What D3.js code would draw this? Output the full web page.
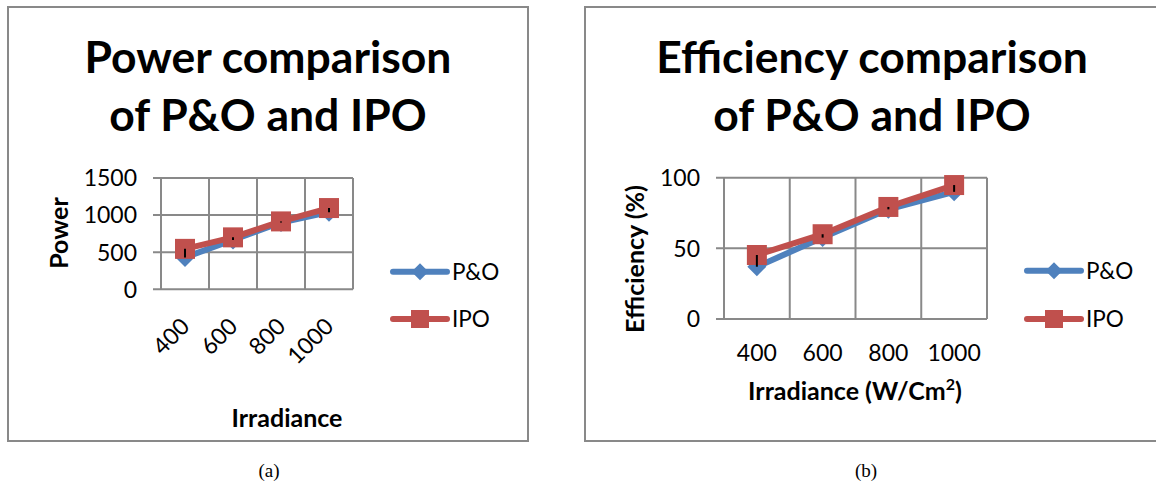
<!DOCTYPE html>
<html>
<head>
<meta charset="utf-8">
<script src="https://cdn.jsdelivr.net/npm/d3@7"></script>
<style>
  html, body { margin: 0; padding: 0; background: #fff; }
  svg { display: block; }
  text { font-family: Lato, "Open Sans", sans-serif; fill: #000; }
</style>
</head>
<body>
<svg id="chart" width="1156" height="488"></svg>
<script>
// Irradiance levels shared by both panels
const irradiance = ["400", "600", "800", "1000"];

// Panel (a): output power
const powerPO  = [430, 665, 900, 1040];
const powerIPO = [545, 700, 915, 1095];
const powerTicks = [0, 500, 1000, 1500];

// Panel (b): efficiency in percent
const effPO  = [37, 57.6, 77.6, 90];
const effIPO = [45.3, 60, 79.3, 94.8];
const effTicks = [0, 50, 100];

const seriesNames = ["P&O", "IPO"];
const seriesColors = ["#4f81bd", "#c0504d"];
const gridColor = "#898989";

const svg = d3.select("#chart");

// Diamond path centred on the origin
function diamond(r) {
  return `M0,${-r}L${r},0L0,${r}L${-r},0Z`;
}

function titleSize() {
  // size the title so that the first line spans its designed width
  const t = svg.append("text").attr("font-weight", 700).attr("font-size", 40).text("Power comparison");
  const w = t.node().getComputedTextLength();
  t.remove();
  return 40 * 367 / w;
}
const tSize = titleSize();

function panel(cfg) {
  const g = svg.append("g");

  // outer frame
  g.append("rect")
    .attr("x", cfg.frame[0]).attr("y", cfg.frame[1])
    .attr("width", cfg.frame[2]).attr("height", cfg.frame[3])
    .attr("fill", "#fff").attr("stroke", gridColor).attr("stroke-width", 2);

  // title, two lines
  cfg.title.forEach((line, i) => {
    g.append("text")
      .attr("x", cfg.titleX).attr("y", 73 + i * 58)
      .attr("text-anchor", "middle")
      .attr("font-weight", 700).attr("font-size", tSize)
      .text(line);
  });

  const x = d3.scaleBand().domain(irradiance).range(cfg.xRange);
  const y = d3.scaleLinear().domain(cfg.yDomain).range(cfg.yRange);
  const [x0, x1] = cfg.xRange;
  const [yb, yt] = cfg.yRange;

  // horizontal gridlines with outward tick marks
  g.selectAll(".hgrid").data(cfg.ticks).join("line")
    .attr("x1", x0 - 8).attr("x2", x1)
    .attr("y1", d => y(d)).attr("y2", d => y(d))
    .attr("stroke", gridColor).attr("stroke-width", 2);

  // vertical gridlines at category boundaries
  const bounds = irradiance.map(c => x(c)).concat([x1]);
  g.selectAll(".vgrid").data(bounds).join("line")
    .attr("x1", d => d).attr("x2", d => d)
    .attr("y1", yt).attr("y2", yb)
    .attr("stroke", gridColor).attr("stroke-width", 2);

  // y tick labels
  g.selectAll(".ylab").data(cfg.ticks).join("text")
    .attr("x", x0 - 24).attr("y", d => y(d) + 8.3)
    .attr("text-anchor", "end").attr("font-size", 23)
    .text(d => d);

  // x tick labels
  const cx = c => x(c) + x.bandwidth() / 2;
  if (cfg.rotateX) {
    g.selectAll(".xlab").data(irradiance).join("text")
      .attr("transform", d => `translate(${cx(d)},${cfg.xLabelY}) rotate(-45)`)
      .attr("dy", "0.36em")
      .attr("text-anchor", "end").attr("font-size", 23)
      .text(d => d);
  } else {
    g.selectAll(".xlab").data(irradiance).join("text")
      .attr("x", cx).attr("y", cfg.xLabelY)
      .attr("text-anchor", "middle").attr("font-size", 23)
      .text(d => d);
  }

  // axis titles
  g.append("text")
    .attr("transform", `translate(${cfg.yTitlePos[0]},${cfg.yTitlePos[1]}) rotate(-90)`)
    .attr("text-anchor", "middle").attr("font-weight", 700).attr("font-size", 25)
    .attr("dy", "0.36em")
    .text(cfg.yTitle);
  const xt = g.append("text")
    .attr("x", cfg.xTitlePos[0]).attr("y", cfg.xTitlePos[1])
    .attr("text-anchor", "middle").attr("font-weight", 700).attr("font-size", 25);
  cfg.xTitle.forEach(part => {
    const s = xt.append("tspan").text(part.t);
    if (part.sup) s.attr("font-size", 16).attr("dy", -10);
    if (part.after) s.attr("dy", 10);
  });

  // series lines and markers
  const line = d3.line().x((d, i) => cx(irradiance[i])).y(d => y(d));
  cfg.series.forEach((vals, si) => {
    g.append("path")
      .attr("d", line(vals))
      .attr("fill", "none").attr("stroke", seriesColors[si])
      .attr("stroke-width", 6).attr("stroke-linejoin", "round").attr("stroke-linecap", "round");
    g.selectAll(null).data(vals).join("path")
      .attr("transform", (d, i) => `translate(${cx(irradiance[i])},${y(d)})`)
      .attr("d", si === 0 ? diamond(9.5) : "M-10,-10H10V10H-10Z")
      .attr("fill", seriesColors[si]);
  });

  // high-low lines joining the two series at each level
  g.selectAll(".hilo").data(irradiance).join("line")
    .attr("x1", cx).attr("x2", cx)
    .attr("y1", (d, i) => y(cfg.series[0][i]))
    .attr("y2", (d, i) => y(cfg.series[1][i]))
    .attr("stroke", "#000").attr("stroke-width", 2);

  // legend
  seriesNames.forEach((name, si) => {
    const ly = cfg.legendY[si];
    const [lx0, lx1] = cfg.legendX;
    g.append("line")
      .attr("x1", lx0).attr("x2", lx1).attr("y1", ly).attr("y2", ly)
      .attr("stroke", seriesColors[si]).attr("stroke-width", 6).attr("stroke-linecap", "round");
    g.append("path")
      .attr("transform", `translate(${(lx0 + lx1) / 2},${ly})`)
      .attr("d", si === 0 ? diamond(8.5) : "M-9,-9H9V9H-9Z")
      .attr("fill", seriesColors[si]);
    g.append("text")
      .attr("x", lx1 + 5).attr("y", ly + 8)
      .attr("font-size", 22.5)
      .text(name);
  });

  // caption below the frame
  svg.append("text")
    .attr("x", cfg.captionX).attr("y", 477)
    .attr("text-anchor", "middle")
    .style("font-family", "'Liberation Serif', 'Times New Roman', serif")
    .attr("font-size", 19)
    .text(cfg.caption);
}

panel({
  frame: [8, 7, 520, 434],
  title: ["Power comparison", "of P&O and IPO"],
  titleX: 268,
  xRange: [161, 353],
  yDomain: [0, 1500],
  yRange: [289.3, 178],
  ticks: powerTicks,
  rotateX: true,
  xLabelY: 322,
  yTitle: "Power",
  yTitlePos: [59, 233],
  xTitle: [{ t: "Irradiance" }],
  xTitlePos: [287, 427],
  series: [powerPO, powerIPO],
  legendX: [393, 447],
  legendY: [271.7, 319],
  caption: "(a)",
  captionX: 269
});

panel({
  frame: [585, 7, 574, 434],
  title: ["Efficiency comparison", "of P&O and IPO"],
  titleX: 872,
  xRange: [724, 987],
  yDomain: [0, 100],
  yRange: [319, 177.7],
  ticks: effTicks,
  rotateX: false,
  xLabelY: 361,
  yTitle: "Efficiency (%)",
  yTitlePos: [635, 259],
  xTitle: [{ t: "Irradiance (W/Cm" }, { t: "2", sup: true }, { t: ")", after: true }],
  xTitlePos: [855, 400],
  series: [effPO, effIPO],
  legendX: [1027, 1081],
  legendY: [270.7, 319],
  caption: "(b)",
  captionX: 866
});
</script>
</body>
</html>
